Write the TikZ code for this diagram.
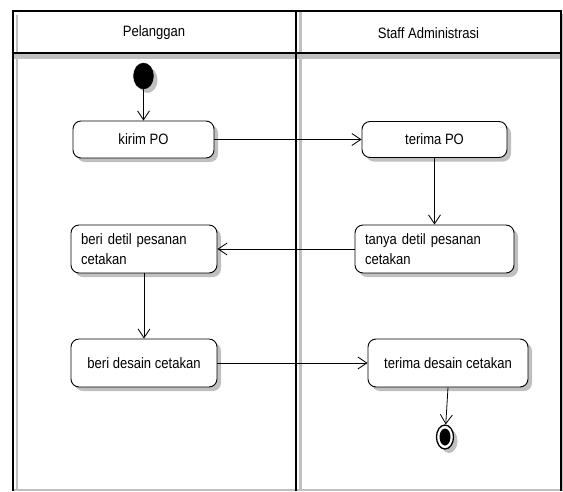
\documentclass[tikz,border=0pt]{standalone}
\usepackage{fontspec}
\setmainfont{Liberation Sans}[FakeStretch=0.87]
\usetikzlibrary{arrows.meta,shadows,shapes.geometric}
\definecolor{shade}{HTML}{C0C0C0}
\tikzset{
  act/.style={draw=black, line width=0.9pt, rounded corners=8pt, fill=white,
    inner sep=0pt, font=\fontsize{15}{20}\selectfont,
    drop shadow={shadow xshift=4pt, shadow yshift=-4pt, fill=shade, opacity=1}},
  actml/.style={act, align=left, inner xsep=10pt},
  flow/.style={draw=black, line width=0.8pt, -{Straight Barb[length=9pt,width=12pt,line width=0.8pt]}},
  blackline/.style={draw=black, line width=2pt},
  grayline/.style={draw=shade, line width=2.5pt},
  lanehead/.style={font=\fontsize{15}{18}\selectfont},
}
\begin{document}
\begin{tikzpicture}[x=1pt,y=-1pt]
\useasboundingbox (0,0) rectangle (563,491);
% shadows of lanes
\draw[grayline] (17,15) -- (17,491);
\draw[grayline] (300.5,12) -- (300.5,491);
\draw[grayline] (562.5,14) -- (562.5,491);
\draw[draw=shade, line width=4.5pt] (14,56.5) -- (561,56.5);
\draw[draw=shade, line width=2pt] (12,490) -- (561,490);
% frame
\draw[blackline] (12.5,11) -- (12.5,491);
\draw[blackline] (296,11) -- (296,491);
\draw[blackline] (561,11) -- (561,491);
\draw[blackline] (11.5,11) -- (562,11);
\draw[blackline] (11.5,52.5) -- (562,52.5);
% headers
\node[lanehead] (h1) at (154,33) {Pelanggan};
\node[lanehead] (h2) at (428.5,33) {Staff Administrasi};
% start
\node[draw=black, fill=black, ellipse, minimum width=20pt, minimum height=26pt, inner sep=0pt,
  drop shadow={shadow xshift=4pt, shadow yshift=-4pt, fill=shade, opacity=1}] (start) at (143.5,76) {};
% activities
\node[act, minimum width=141pt, minimum height=37pt] (kirim) at (143.5,139.5) {kirim PO};
\node[act, minimum width=145pt, minimum height=36pt] (terimapo) at (434.5,139.5) {terima PO};
\node[actml, text width=139pt, minimum height=48pt] (tanya) at (434.5,249) {tanya detil pesanan\\cetakan};
\node[actml, text width=126pt, minimum height=48pt] (beridetil) at (144,249) {beri detil pesanan\\cetakan};
\node[act, minimum width=146pt, minimum height=48pt] (desain) at (144,363) {beri desain cetakan};
\node[act, minimum width=160pt, minimum height=48pt] (terimadesain) at (448,363) {terima desain cetakan};
% end
\node[draw=black, fill=white, line width=1.3pt, ellipse, minimum width=17pt, minimum height=24pt, inner sep=0pt,
  drop shadow={shadow xshift=4pt, shadow yshift=-4pt, fill=shade, opacity=1}] (end) at (445,437) {};
\node[fill=black, ellipse, minimum width=11pt, minimum height=17pt, inner sep=0pt] (endin) at (end.center) {};
% flows
\draw[flow] (start) -- (kirim);
\draw[flow] (kirim) -- (terimapo);
\draw[flow] (terimapo) -- (tanya);
\draw[flow] (tanya) -- (beridetil);
\draw[flow] (beridetil) -- (desain);
\draw[flow] (desain) -- (terimadesain);
\draw[flow] (terimadesain.south) -- (end);
\end{tikzpicture}
\end{document}
